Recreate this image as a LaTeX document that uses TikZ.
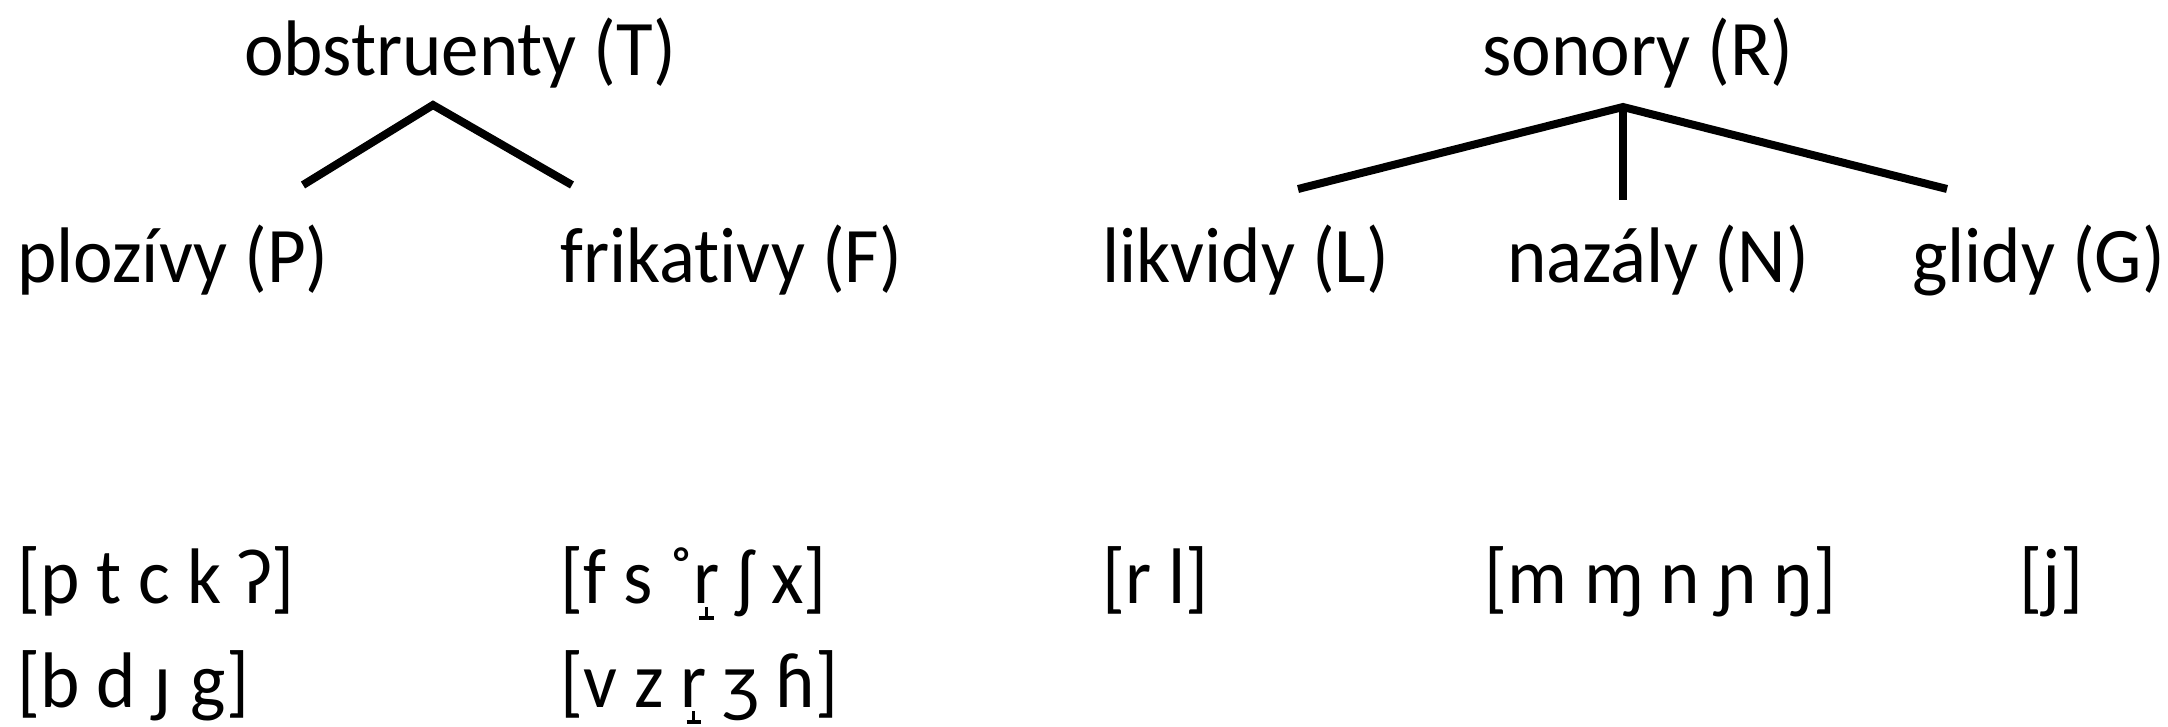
\documentclass[tikz,border=0pt]{standalone}
\usepackage{fontspec}
\usepackage{graphicx}
\setmainfont{Carlito}[Ligatures=NoCommon]
\newcommand\uptackbelow[1]{\ooalign{#1\cr\hidewidth\smash{\raisebox{-0.21em}{\vbox{\hbox to 0.19em{\hss\vrule width 0.045em height 0.12em\hss}\hrule height 0.045em width 0.19em}}}\hidewidth\cr}}
\newcommand\tx[1]{\scalebox{1}[1.05]{#1}}
\begin{document}
\begin{tikzpicture}[x=1pt,y=-1pt,
  lbl/.style={anchor=base west,inner sep=0pt,font=\fontsize{75}{90}\selectfont},
  ttl/.style={anchor=base,inner sep=0pt,font=\fontsize{75}{90}\selectfont},
  edge/.style={line width=8pt},
  thinedge/.style={line width=7.5pt}]
\useasboundingbox (0,0) rectangle (2168,726);
% titles
\node[ttl] (T) at (460,75) {\tx{obstruenty (T)}};
\node[ttl] (R) at (1638,75) {\tx{sonory (R)}};
% categories
\node[lbl] (P) at (17,282) {\tx{plozívy (P)}};
\node[lbl] (F) at (560,282) {\tx{frikativy (F)}};
\node[lbl] (L) at (1102,282) {\tx{likvidy (L)}};
\node[lbl] (N) at (1507,282) {\tx{nazály (N)}};
\node[lbl] (G) at (1912,282) {\tx{glidy (G)}};
% segments
\node[lbl] (P1) at (17,603) {\tx{[p t c k ʔ]}};
\node[lbl] (P2) at (17,707) {\tx{[b d ɟ g]}};
\node[lbl] (F1) at (560,603) {\tx{[f s ˚\uptackbelow{r} ʃ x]}};
\node[lbl] (F2) at (560,707) {\tx{[v z \uptackbelow{r} ʒ ɦ]}};
\node[lbl] (L1) at (1102,603) {\tx{[r l]}};
\node[lbl] (N1) at (1484,603) {\tx{[m ɱ n ɲ ŋ]}};
\node[lbl] (G1) at (2019,603) {\tx{[j]}};
% tree coordinates
\coordinate (Ta) at (433,105);
\coordinate (Tl) at (303,185);
\coordinate (Tr) at (572,185);
\coordinate (Ra) at (1623,107);
\coordinate (Rl) at (1298,189);
\coordinate (Rr) at (1947,189);
\coordinate (Rm) at (1623,200);
\draw[edge] (Tl) -- (Ta) -- (Tr);
\draw[edge] (Rl) -- (Ra) -- (Rr);
\draw[thinedge] (Ra) -- (Rm);
\end{tikzpicture}
\end{document}
